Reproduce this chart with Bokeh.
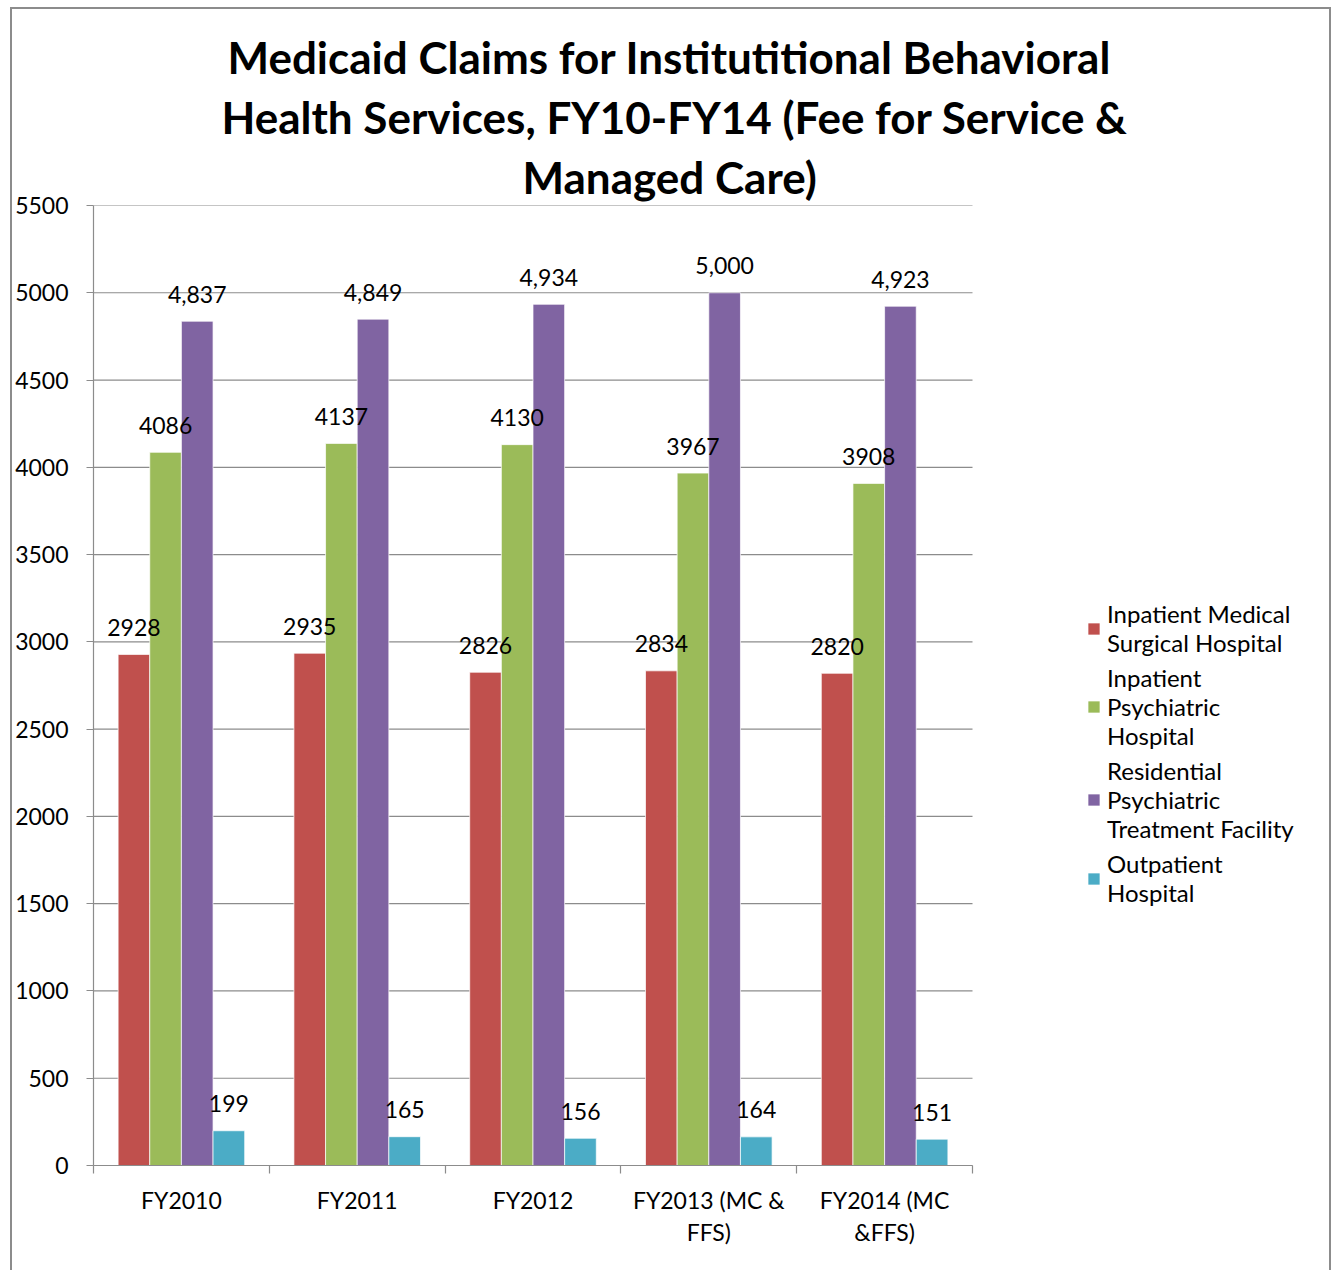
from bokeh.plotting import figure
from bokeh.models import (Range1d, FixedTicker, Legend, LegendItem, ColumnDataSource, Title)
from bokeh.transform import dodge
from bokeh.core.properties import value
from bokeh.embed import file_html
from bokeh.resources import INLINE

# ---------------- data ----------------
categories = ["FY2010", "FY2011", "FY2012", "FY2013 (MC &\nFFS)", "FY2014 (MC\n&FFS)"]
inpatient_med_surg = [2928, 2935, 2826, 2834, 2820]
inpatient_psych = [4086, 4137, 4130, 3967, 3908]
residential_psych = [4837, 4849, 4934, 5000, 4923]
outpatient = [199, 165, 156, 164, 151]
series_names = ["Inpatient Medical\nSurgical Hospital\n",
                "Inpatient\nPsychiatric\nHospital",
                "Residential\nPsychiatric\nTreatment Facility",
                "Outpatient\nHospital"]
series_label_fmt = ["{:d}", "{:d}", "{:,d}", "{:d}"]
colors = ["#C0504D", "#9BBB59", "#8064A2", "#4BACC6"]
y_ticks = [0, 500, 1000, 1500, 2000, 2500, 3000, 3500, 4000, 4500, 5000, 5500]
title_lines = ["Medicaid Claims for Institutitional Behavioral",
               "Health Services, FY10-FY14 (Fee for Service &",
               "Managed Care)"]

FONT = "Lato"
GRAY = "#8c8c8c"

# layout (pixels)
W, H = 1335, 1270
LEFT, TOP, BOTTOM = 93, 205, 1165
CAT_RIGHT = 972          # right end of the category area
FRAME_RIGHT = 1325       # frame extends under the legend
title_offsets = [134, 128, 429]   # left edge of each title line, from the frame's left

n = len(categories)
centers = [i + 0.5 for i in range(n)]
series = [inpatient_med_surg, inpatient_psych, residential_psych, outpatient]
offsets = [-0.27, -0.09, 0.09, 0.27]
bar_w = 0.18
x_end = n * (FRAME_RIGHT - LEFT) / (CAT_RIGHT - LEFT)

border_css = ", ".join([
    "linear-gradient(#8c8c8c,#8c8c8c) 10px 7px / 2px 1263px no-repeat",
    "linear-gradient(#8c8c8c,#8c8c8c) 10px 7px / 1321px 2px no-repeat",
    "linear-gradient(#8c8c8c,#8c8c8c) 1329px 7px / 2px 1263px no-repeat",
])

p = figure(x_range=Range1d(0, x_end), y_range=Range1d(0, y_ticks[-1]),
           width=W, height=H, output_backend="svg", toolbar_location=None,
           title_location=None,
           min_border_left=LEFT, min_border_right=W - FRAME_RIGHT,
           min_border_top=TOP, min_border_bottom=H - BOTTOM)
p.outline_line_color = None
p.background_fill_alpha = 0
p.border_fill_alpha = 0
p.styles = {"background": border_css}

# gridlines limited to the category area
p.xgrid.visible = False
p.ygrid.visible = False
p.segment(x0=[0] * len(y_ticks), x1=[n] * len(y_ticks), y0=y_ticks, y1=y_ticks,
          line_color=GRAY, line_width=1.2)

renderers = []
sources = []
for vals, off, col, fmt in zip(series, offsets, colors, series_label_fmt):
    src = ColumnDataSource(dict(x=centers, y=vals, t=[fmt.format(v) for v in vals]))
    sources.append(src)
    r = p.vbar(x=dodge("x", off), top="y", width=bar_w, source=src,
               fill_color=col, line_color="white", line_alpha=0.7, line_width=1)
    renderers.append(r)
for src, off in zip(sources, offsets):
    p.text(x=dodge("x", off), y="y", text="t", source=src,
           text_align="center", text_baseline="alphabetic", y_offset=-27,
           text_font=value(FONT), text_font_size="23px", text_color="black")

# y axis
ya = p.yaxis[0]
ya.ticker = FixedTicker(ticks=y_ticks)
ya.axis_line_color = GRAY
ya.axis_line_width = 1.2
ya.major_tick_line_color = GRAY
ya.major_tick_in = 0
ya.major_tick_out = 7
ya.minor_tick_line_color = None
ya.major_label_standoff = 18
ya.major_label_text_font = FONT
ya.major_label_text_font_size = "23px"
ya.major_label_text_color = "black"

# x axis: labels at category centres, tick marks at category boundaries
xa = p.xaxis[0]
xa.bounds = (0, n)
xa.ticker = FixedTicker(ticks=centers, minor_ticks=list(range(n + 1)))
xa.major_label_overrides = {c: lab for c, lab in zip(centers, categories)}
xa.axis_line_color = GRAY
xa.axis_line_width = 1.2
xa.major_tick_line_color = None
xa.major_tick_in = 0
xa.major_tick_out = 8
xa.minor_tick_line_color = GRAY
xa.minor_tick_line_width = 1.2
xa.minor_tick_in = 0
xa.minor_tick_out = 8
xa.major_label_standoff = 12
xa.major_label_text_font = FONT
xa.major_label_text_font_size = "23px"
xa.major_label_text_color = "black"
xa.major_label_text_line_height = 1.15

# title: one Title per line, nearest-to-frame first
for line, off in reversed(list(zip(title_lines, title_offsets))):
    p.add_layout(Title(text=line, align="left", offset=off, standoff=6,
                       text_font=FONT, text_font_style="bold", text_font_size="44px",
                       text_color="black"), "above")

# legend
legend = Legend(items=[LegendItem(label=nm, renderers=[r]) for nm, r in zip(series_names, renderers)],
                location=(993, 258), padding=0, margin=0, spacing=6,
                glyph_width=15, glyph_height=15, label_standoff=6,
                border_line_color=None, background_fill_alpha=0,
                label_text_font=FONT, label_text_font_size="24px",
                label_text_line_height=1.15, label_text_color="black")
p.add_layout(legend)

open("out.html", "w").write(file_html(p, INLINE))
